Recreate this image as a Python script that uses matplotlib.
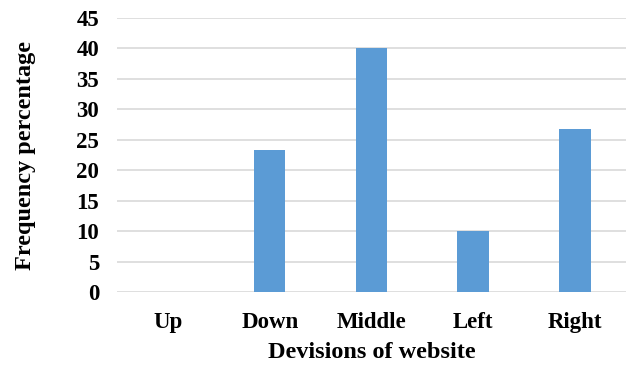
import matplotlib
matplotlib.use("Agg")
import matplotlib.pyplot as plt

categories = ["Up", "Down", "Middle", "Left", "Right"]
frequency = [0, 23.3, 40, 10, 26.7]

plt.rcParams["font.family"] = ["Liberation Serif", "DejaVu Serif"]
plt.rcParams["font.weight"] = "bold"

fig = plt.figure(figsize=(6.3, 3.67), dpi=100)
ax = fig.add_axes([0.186, 0.204, 0.807, 0.747])

x = range(len(categories))
ax.bar(x, frequency, width=0.31, color="#5B9BD5", zorder=3)

ax.set_xlim(-0.5, len(categories) - 0.5)
ax.set_ylim(0, 45)
ax.set_yticks(range(0, 50, 5))
ax.set_xticks(list(x))
ax.set_xticklabels(categories)

ax.yaxis.grid(True, color="#D9D9D9", linewidth=1.2)
for s in ax.spines.values():
    s.set_visible(False)
ax.tick_params(axis="both", length=0, labelsize=16.5)
ax.tick_params(axis="y", pad=13)
ax.tick_params(axis="x", pad=14)

ax.set_xlabel("Devisions of website", fontsize=17.5, fontweight="bold", labelpad=7)
ax.set_ylabel("Frequency percentage", fontsize=17.5, fontweight="bold", labelpad=29)

fig.savefig("out.png", dpi=100)
